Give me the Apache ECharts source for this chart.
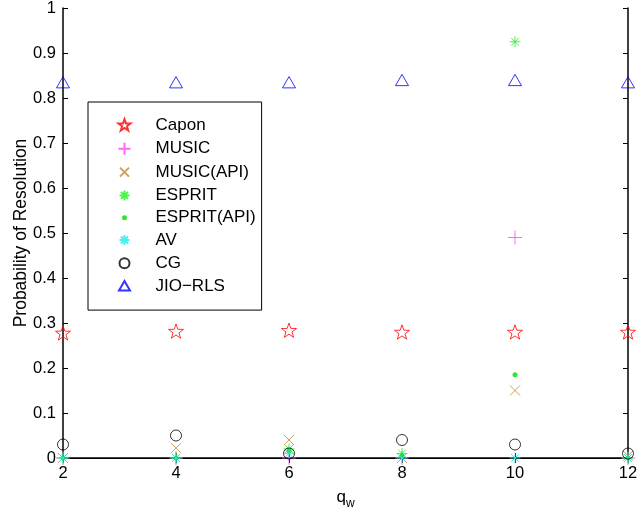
<!DOCTYPE html>
<html><head><meta charset="utf-8">
<script src="https://cdn.jsdelivr.net/npm/echarts@6/dist/echarts.min.js"></script>
<style>html,body{margin:0;padding:0;background:#fff}#c{width:640px;height:508px}</style>
</head><body><div id="c"></div>
<script>
const qw = [2, 4, 6, 8, 10, 12];
const capon = [0.278, 0.282, 0.284, 0.280, 0.280, 0.280];
const music = [0, 0, 0, 0, 0.49, 0];
const musicApi = [0, 0.022, 0.04, 0, 0.15, 0.005];
const esprit = [0, 0, 0.02, 0.01, 0.925, 0];
const espritApi = [0, 0, 0.015, 0.005, 0.185, 0];
const av = [0, 0, 0.01, 0, 0, 0];
const cg = [0.03, 0.05, 0.01, 0.04, 0.03, 0.01];
const jio = [0.835, 0.835, 0.835, 0.84, 0.84, 0.835];
const seriesNames = ['Capon','MUSIC','MUSIC(API)','ESPRIT','ESPRIT(API)','AV','CG','JIO\u2212RLS'];

const STAR = 'path://M0,-10L2.35,-3.24L9.51,-3.09L3.80,1.24L5.88,8.09L0,4L-5.88,8.09L-3.80,1.24L-9.51,-3.09L-2.35,-3.24Z';
const PLUS = 'path://M0,5L10,5M5,0L5,10';
const CROSS = 'path://M0,0L10,10M0,10L10,0';
const AST = 'path://M0,5L10,5M5,0L5,10M1.5,1.5L8.5,8.5M1.5,8.5L8.5,1.5';
const TRI = 'path://M5,0L10,8.66L0,8.66Z';

// legend icons: same shapes, padded inside a square box
const L_STAR = 'path://M-11,-11M11,11M0,-10L2.35,-3.24L9.51,-3.09L3.80,1.24L5.88,8.09L0,4L-5.88,8.09L-3.80,1.24L-9.51,-3.09L-2.35,-3.24Z';
const L_PLUS = 'path://M-1,-1M13,13M0,6L12,6M6,0L6,12';
const L_CROSS = 'path://M0,0M14,14M2.5,2.5L11.5,11.5M2.5,11.5L11.5,2.5';
const L_AST = 'path://M0,0M14,14M2,7L12,7M7,2L7,12M3.5,3.5L10.5,10.5M3.5,10.5L10.5,3.5';
const L_DOT = 'path://M0,0M14,14M9.5,7A2.5,2.5,0,1,1,4.5,7A2.5,2.5,0,1,1,9.5,7Z';
const L_CIRC = 'path://M0,0M14,14M12,7A5,5,0,1,1,2,7A5,5,0,1,1,12,7Z';
const L_TRI = 'path://M0,0M14,14M7,1.5L12.5,11L1.5,11Z';
const legendIcons = [L_STAR, L_PLUS, L_CROSS, L_AST, L_DOT, L_AST, L_CIRC, L_TRI];

function pts(arr){ return qw.map((x,i)=>[x,arr[i]]); }
function hollow(name, data, symbol, size, color, z){
  return {name, type:'scatter', data:pts(data), symbol, symbolSize:size, symbolKeepAspect:true,
    itemStyle:{color:'none', borderColor:color, borderWidth:1}, clip:false, z, emphasis:{disabled:true}};
}
const series = [
  hollow(seriesNames[0], capon, STAR, 15, '#ff0000', 2),
  hollow(seriesNames[1], music, PLUS, 14, '#ff44ff', 3),
  hollow(seriesNames[2], musicApi, CROSS, 10, '#c8862a', 4),
  hollow(seriesNames[3], esprit, AST, 11, '#22ee22', 5),
  {name:seriesNames[4], type:'scatter', data:pts(espritApi), symbol:'circle', symbolSize:5,
    itemStyle:{color:'#00dd00'}, clip:false, z:6, emphasis:{disabled:true}},
  hollow(seriesNames[5], av, AST, 11, '#22e8e8', 7),
  hollow(seriesNames[6], cg, 'circle', 11, '#000000', 8),
  hollow(seriesNames[7], jio, TRI, 13, '#0000ff', 9)
];

const font = 'Liberation Sans, Arial, Helvetica, sans-serif';
const chart = echarts.init(document.getElementById('c'), null, {renderer:'canvas'});
chart.setOption({
  animation:false,
  backgroundColor:'#fff',
  grid:{left:63, right:12, top:8, bottom:50, containLabel:false, outerBoundsMode:'none'},
  legend:{
    orient:'vertical', left:88, top:102,
    data:seriesNames.map((n,i)=>({name:n, icon:legendIcons[i]})),
    backgroundColor:'#fff', borderColor:'#000', borderWidth:1, borderRadius:0,
    padding:[14, 6, 14, 27], itemGap:4.3, itemWidth:14, itemHeight:14,
    textStyle:{fontFamily:font, fontSize:17, lineHeight:17, color:'#000', padding:[0,0,0,19]},
    selectedMode:false
  },
  xAxis:[
    {type:'value', min:2, max:12, interval:2, position:'bottom',
     name:'{a|q}{b|w}', nameLocation:'middle', nameGap:27, nameMoveOverlap:false,
     nameTextStyle:{rich:{a:{fontFamily:font, fontSize:17, color:'#000'}, b:{fontFamily:font, fontSize:12, color:'#000', padding:[13,0,0,0]}}},
     axisLine:{lineStyle:{color:'#000', width:1.5}}, axisTick:{inside:true, length:5, lineStyle:{color:'#000'}},
     axisLabel:{fontFamily:font, fontSize:16.5, color:'#000', margin:7}, splitLine:{show:false}},
    {type:'value', min:2, max:12, interval:2, position:'top',
     axisLine:{lineStyle:{color:'#000', width:1}}, axisTick:{inside:true, length:5, lineStyle:{color:'#000'}},
     axisLabel:{show:false}, splitLine:{show:false}}
  ],
  yAxis:[
    {type:'value', min:0, max:1, interval:0.1, position:'left',
     name:'Probability of Resolution', nameLocation:'middle', nameGap:33, nameMoveOverlap:false,
     nameTextStyle:{fontFamily:font, fontSize:17.5, color:'#000'},
     axisLine:{lineStyle:{color:'#000', width:1.5}}, axisTick:{inside:true, length:5, lineStyle:{color:'#000'}},
     axisLabel:{fontFamily:font, fontSize:16.5, color:'#000', margin:7,
       formatter:v=>{const r=Math.round(v*10)/10; return r===0?'0':(r===1?'1':String(r));}},
     splitLine:{show:false}},
    {type:'value', min:0, max:1, interval:0.1, position:'right',
     axisLine:{lineStyle:{color:'#000', width:1.5}}, axisTick:{inside:true, length:5, lineStyle:{color:'#000'}},
     axisLabel:{show:false}, splitLine:{show:false}}
  ],
  series
});
</script></body></html>
